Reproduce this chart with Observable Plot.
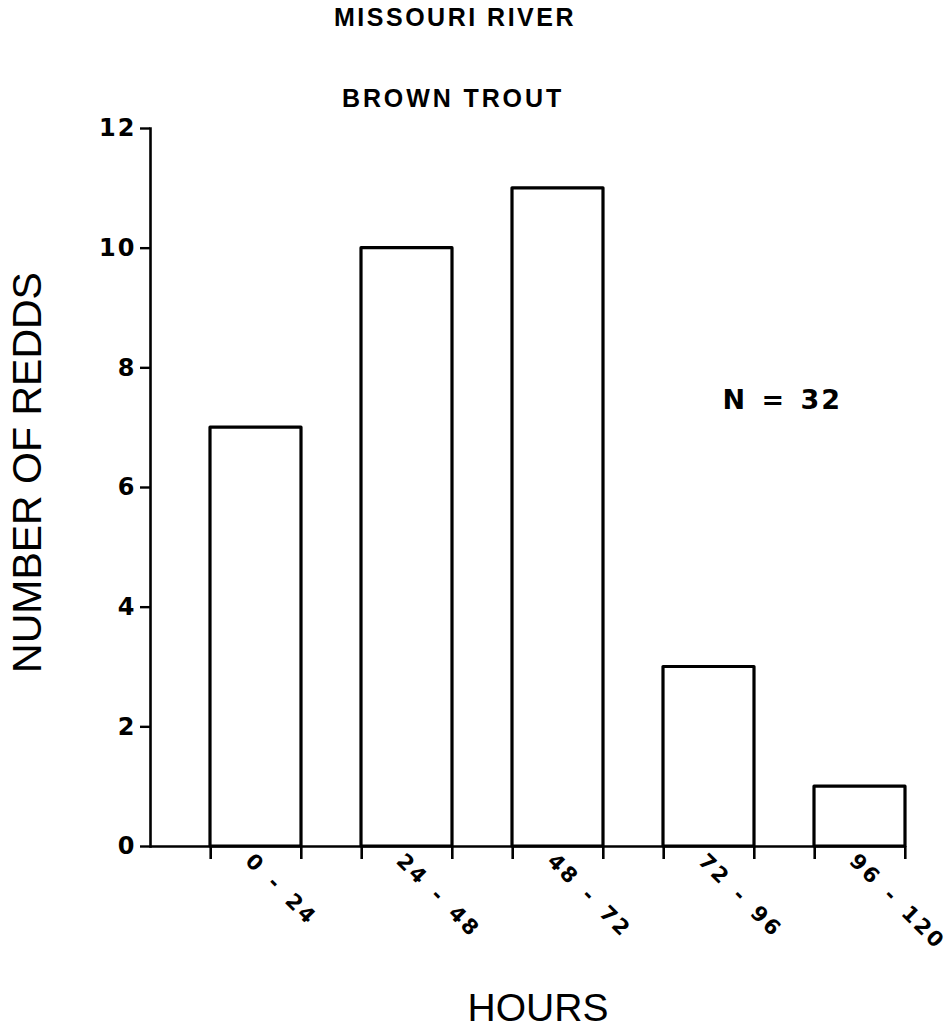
<!DOCTYPE html>
<html>
<head>
<meta charset="utf-8">
<script src="https://cdn.jsdelivr.net/npm/d3@7"></script>
<script src="https://cdn.jsdelivr.net/npm/@observablehq/plot@0.6"></script>
<style>
  html, body { margin: 0; padding: 0; background: #fff; }
</style>
</head>
<body>
<div id="chart"></div>
<script>
const categories = ["0 - 24", "24 - 48", "48 - 72", "72 - 96", "96 - 120"];
const redds = [7, 10, 11, 3, 1];
const yTicks = [0, 2, 4, 6, 8, 10, 12];
const title = "MISSOURI RIVER";
const subtitle = "BROWN TROUT";
const yLabel = "NUMBER OF REDDS";
const xLabel = "HOURS";

const data = categories.map((c, i) => ({hours: c, redds: redds[i]}));
const total = d3.sum(redds);
const note = `N = ${total}`;

const W = 951, H = 1031;
const mL = 150, mR = 46, mT = 128, mB = 185;
const pIn = 0.4, pOut = 0.2;
const step = (W - mL - mR) / (categories.length - pIn + 2 * pOut);
const bw = step * (1 - pIn);

const LIB = '"Liberation Sans", Arial, Helvetica, sans-serif';
const DJV = '"DejaVu Sans", "Liberation Sans", sans-serif';

const chart = Plot.plot({
  width: W,
  height: H,
  marginLeft: mL,
  marginRight: mR,
  marginTop: mT,
  marginBottom: mB,
  style: {fontFamily: LIB, color: "#000", background: "#fff"},
  x: {type: "band", domain: categories, paddingInner: pIn, paddingOuter: pOut, align: 1, axis: null},
  y: {domain: [0, 12], axis: null},
  marks: [
    Plot.barY(data, {x: "hours", y: "redds", fill: "white", stroke: "black", strokeWidth: 3.2, strokeLinejoin: "round"}),
    Plot.ruleY([0], {stroke: "black", strokeWidth: 2.6}),
    Plot.frame({anchor: "left", stroke: "black", strokeWidth: 2.6}),
    Plot.axisY({ticks: yTicks, tickSize: 10, tickPadding: 4, fontSize: 24, fontWeight: "bold", fontFamily: DJV, strokeWidth: 2.4, label: null, tickFormat: d => String(d)}),
    Plot.axisX({ticks: categories, tickSize: 13, text: null, dx: -bw / 2, strokeWidth: 2.6, label: null}),
    Plot.axisX({ticks: categories, tickSize: 13, text: null, dx: bw / 2, strokeWidth: 2.6, label: null}),
    Plot.axisX({ticks: categories, tickSize: 0, tickPadding: 11, tickRotate: 45, fontSize: 21, fontWeight: "bold", fontFamily: DJV, dx: -7, label: null}),
    Plot.text([title], {frameAnchor: "top", text: d => d, lineAnchor: "middle", textAnchor: "middle", dx: -73, dy: -110.5, fontSize: 25, fontWeight: "bold", fontFamily: LIB}),
    Plot.text([subtitle], {frameAnchor: "top", text: d => d, lineAnchor: "middle", textAnchor: "middle", dx: -75, dy: -30, fontSize: 25, fontWeight: "bold", fontFamily: LIB}),
    Plot.text([yLabel], {frameAnchor: "left", text: d => d, rotate: -90, textAnchor: "middle", lineAnchor: "middle", dx: -123, dy: -15, fontSize: 41, fontWeight: "normal", fontFamily: LIB}),
    Plot.text([xLabel], {frameAnchor: "bottom", text: d => d, textAnchor: "middle", lineAnchor: "middle", dx: 10, dy: 162, fontSize: 39, fontWeight: "normal", fontFamily: LIB}),
    Plot.text([note], {frameAnchor: "top-left", text: d => d, textAnchor: "start", lineAnchor: "middle", dx: 572, dy: 272, fontSize: 27, fontWeight: "bold", fontFamily: DJV})
  ]
});

document.getElementById("chart").appendChild(chart);

// letter spacing per text group
d3.select(chart).selectAll("text").each(function() {
  const t = this.textContent;
  const s = d3.select(this);
  if (t === title) s.style("letter-spacing", "2.5px");
  else if (t === subtitle) s.style("letter-spacing", "2.9px");
  else if (t === note) s.style("letter-spacing", "2px").style("word-spacing", "3px");
  else if (categories.includes(t)) s.style("letter-spacing", "2.6px").style("word-spacing", "4px");
  else if (yTicks.map(String).includes(t)) s.style("letter-spacing", "2px");
});
</script>
</body>
</html>
